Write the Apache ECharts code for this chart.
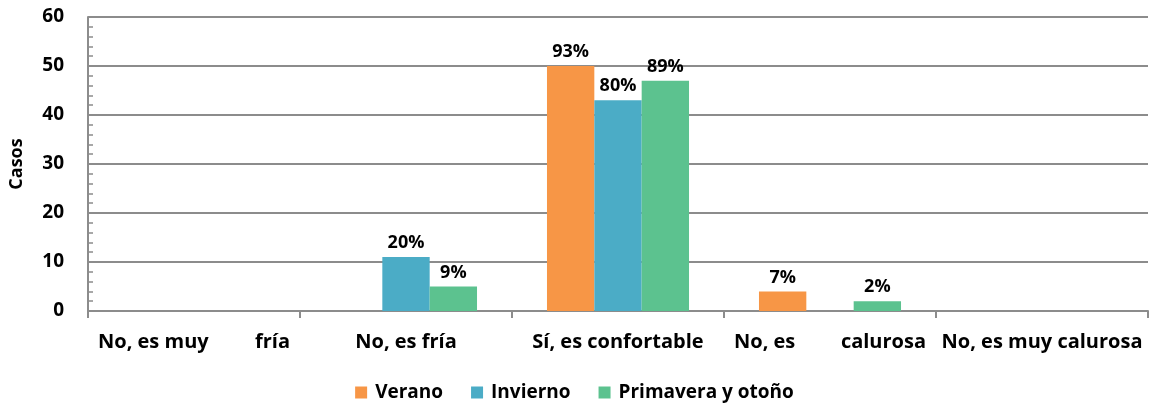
<!DOCTYPE html>
<html>
<head>
<meta charset="utf-8">
<script src="https://cdn.jsdelivr.net/npm/echarts@6/dist/echarts.min.js"></script>
<style>
  html, body { margin: 0; padding: 0; background: #fff; }
  #chart { width: 1149px; height: 409px; }
</style>
</head>
<body>
<div id="chart"></div>
<script>
// categorías (eje X) y cómo se parten en la etiqueta, como en la figura original
const categories = ['No, es muy fría', 'No, es fría', 'Sí, es confortable', 'No, es calurosa', 'No, es muy calurosa']
const tickParts = [['No, es muy', 'fría'], null, null, ['No, es', 'calurosa'], null]

// casos por estación
const verano = [0, 0, 50, 4, 0]
const invierno = [0, 11, 43, 0, 0]
const primavera = [0, 5, 47, 2, 0]

// porcentajes que se muestran encima de cada barra ('' = sin etiqueta)
const veranoPct = ['', '', '93%', '7%', '']
const inviernoPct = ['', '20%', '80%', '', '']
const primaveraPct = ['', '9%', '89%', '2%', '']

const seriesNames = ['Verano', 'Invierno', 'Primavera y otoño']
const colors = ['#F79646', '#4BACC6', '#5CC28F']

const FONT = '"Open Sans", Lato, sans-serif'
const grid = '#8c8c8c'

function barSeries(name, data, pct, color) {
  return {
    name,
    type: 'bar',
    data,
    barGap: 0,
    barCategoryGap: '33%',
    itemStyle: { color },
    label: {
      show: true,
      position: 'top',
      distance: 5,
      color: '#000',
      fontFamily: FONT,
      fontWeight: 'bold',
      fontSize: 18,
      formatter: (p) => pct[p.dataIndex]
    }
  }
}

const chart = echarts.init(document.getElementById('chart'))
chart.setOption({
  animation: false,
  color: colors,
  grid: { left: 87, right: 1, top: 17, bottom: 98 },
  legend: {
    bottom: 2,
    left: 'center',
    icon: 'rect',
    itemWidth: 12,
    itemHeight: 12,
    itemGap: 28,
    itemStyle: { borderWidth: 0 },
    textStyle: { color: '#000', fontFamily: FONT, fontWeight: 'bold', fontSize: 19, padding: [0, 0, 0, 3] },
    data: seriesNames
  },
  xAxis: {
    type: 'category',
    data: categories,
    axisLine: { lineStyle: { color: grid, width: 2 } },
    axisTick: { show: true, length: 7, lineStyle: { color: grid, width: 2 } },
    axisLabel: {
      margin: 21,
      color: '#000',
      fontFamily: FONT,
      fontWeight: 'bold',
      fontSize: 20,
      interval: 0,
      formatter: (val, i) => {
        const parts = tickParts[i]
        if (!parts) return val
        return '{l|' + parts[0] + '}{r|' + parts[1] + '}'
      },
      rich: {
        l: { width: 96, align: 'left', color: '#000', fontFamily: FONT, fontWeight: 'bold', fontSize: 20 },
        r: { width: 96, align: 'right', color: '#000', fontFamily: FONT, fontWeight: 'bold', fontSize: 20 }
      }
    }
  },
  yAxis: {
    type: 'value',
    min: 0,
    max: 60,
    interval: 10,
    name: 'Casos',
    nameLocation: 'middle',
    nameGap: 62,
    nameRotate: 90,
    nameTextStyle: { color: '#000', fontFamily: FONT, fontWeight: 'bold', fontSize: 18 },
    axisLine: { show: true, lineStyle: { color: grid, width: 2 } },
    axisTick: { show: true, inside: true, length: 5, lineStyle: { color: grid, width: 1.5 } },
    minorTick: { show: true, splitNumber: 5, length: 5, lineStyle: { color: grid, width: 1.5 } },
    splitLine: { show: true, lineStyle: { color: grid, width: 2 } },
    axisLabel: { margin: 24, color: '#000', fontFamily: FONT, fontWeight: 'bold', fontSize: 19 }
  },
  series: [
    barSeries(seriesNames[0], verano, veranoPct, colors[0]),
    barSeries(seriesNames[1], invierno, inviernoPct, colors[1]),
    barSeries(seriesNames[2], primavera, primaveraPct, colors[2])
  ]
})
</script>
</body>
</html>
